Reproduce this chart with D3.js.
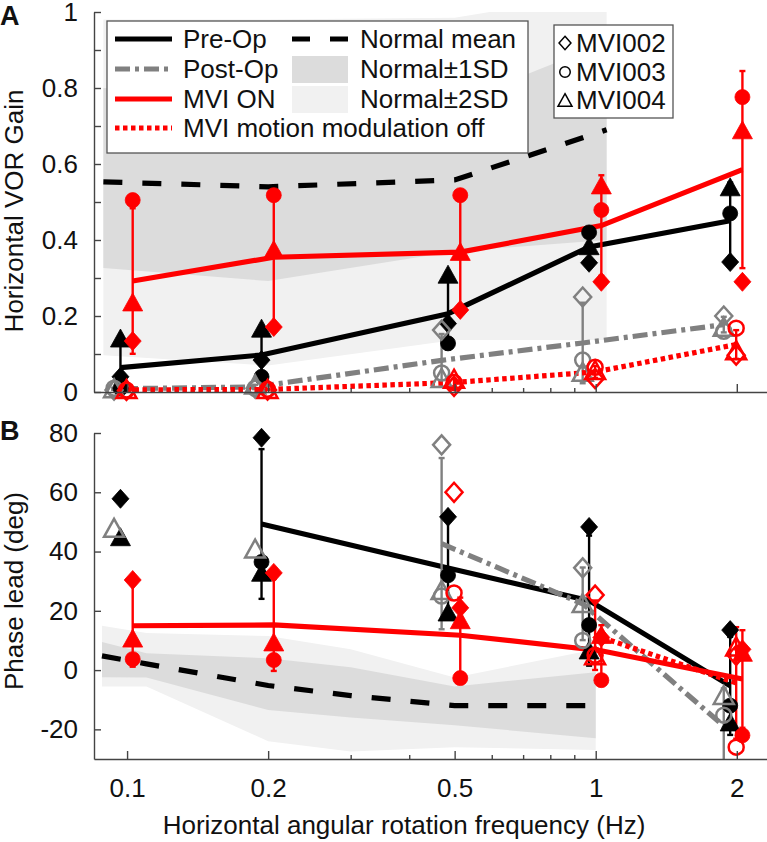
<!DOCTYPE html>
<html><head><meta charset="utf-8">
<script src="https://cdn.jsdelivr.net/npm/d3@7"></script>
<style>
body{margin:0;background:#fff}
text{font-family:"Liberation Sans",Arial,Helvetica,sans-serif;fill:#111}
</style>
</head><body>
<svg id="chart" width="767" height="842"></svg>
<script>
// ---------------- DATA ----------------
const frequencies = [0.1, 0.2, 0.5, 1, 2];
const subjectNames = ["MVI002", "MVI003", "MVI004"];
const conditionNames = ["Pre-Op", "Post-Op", "MVI ON", "MVI motion modulation off"];
// small frequency offsets used in the figure to separate conditions
const conditionJitter = [0.968, 0.938, 1.028, 0.997];

// Gain: rows = MVI002, MVI003, MVI004 ; columns = frequencies
const gainPreOp  = [[0.040, 0.084, 0.180, 0.340, 0.342], [0.010, 0.040, 0.128, 0.420, 0.470], [0.142, 0.168, 0.310, 0.385, 0.540]];
const gainPostOp = [[0.005, 0.010, 0.163, 0.250, 0.200], [0.010, 0.010, 0.050, 0.084, 0.160], [0.010, 0.020, 0.037, 0.053, 0.172]];
const gainMviOn  = [[0.134, 0.171, 0.216, 0.290, 0.290], [0.505, 0.518, 0.518, 0.479, 0.776], [0.237, 0.375, 0.370, 0.545, 0.690]];
const gainMviOff = [[0.004, 0.005, 0.015, 0.035, 0.097], [0.005, 0.007, 0.025, 0.065, 0.168], [0.008, 0.008, 0.035, 0.058, 0.110]];

// Phase lead (deg)
const phasePreOp  = [[57.8, 78.4, 51.7, 48.3, 13.5], [null, 36.5, 32.0, 15.2, -12.0], [45.0, 33.0, 19.6, 6.8, -17.5]];
const phasePostOp = [[null, null, 76.0, 34.5, -33.0], [null, null, 25.0, 10.0, -15.2], [48.0, 41.0, 27.0, 22.6, -8.4]];
const phaseMviOn  = [[30.4, 32.8, 21.0, 11.0, 7.0], [3.7, 3.4, -2.7, -3.4, -22.0], [10.8, 9.5, 17.0, 12.0, 6.0]];
const phaseMviOff = [[null, null, 60.0, 25.3, 5.0], [null, null, 26.0, 5.0, -26.0], [null, null, null, 5.0, 8.0]];

// Normal subjects (gain)
const normalGainFreq  = [0.089, 0.2, 0.5, 1.055];
const normalGainMean  = [0.553, 0.540, 0.558, 0.690];
const normalGainSd1Lo = [0.326, 0.292, 0.370, 0.400];
const normalGainSd1Hi = [0.800, 0.790, 0.760, 0.920];
const normalGainSd2Lo = [0.097, 0.070, 0.137, 0.137];
const normalGainSd2Hi = [0.980, 0.980, 0.985, 1.050];

// Normal subjects (phase)
const normalPhaseFreq  = [0.0884, 0.11, 0.2, 0.3, 0.5, 1.0];
const normalPhaseMean  = [4.8, 2.1, -5.2, -8.6, -12.0, -12.0];
const normalPhaseSd1Lo = [-2.4, -2.5, -13.5, -16.0, -18.6, -23.0];
const normalPhaseSd1Hi = [9.5, 5.7, 4.0, 1.0, -5.5, -0.7];
const normalPhaseSd2Lo = [-5.5, -5.5, -24.0, -27.5, -26.0, -27.0];
const normalPhaseSd2Hi = [15.0, 12.5, 11.5, 7.0, -2.5, 7.0];

const xTickMajor = [0.1, 0.2, 0.5, 1, 2];
const xTickMinor = [0.3, 0.4, 0.6, 0.7, 0.8, 0.9];
const gainTicks = [0, 0.1, 0.2, 0.3, 0.4, 0.5, 0.6, 0.7, 0.8, 0.9, 1];
const gainTickLabels = ["0", "", "0.2", "", "0.4", "", "0.6", "", "0.8", "", "1"];
const phaseTicks = [-20, 0, 20, 40, 60, 80];

// ---------------- STYLES ----------------
const FONT = 26;
const LW = 5.2;
const GRAY = "#808080", RED = "#ff0000";
const condStyle = [
  {color: "#000", dash: null, filled: true},
  {color: GRAY, dash: "15,5,4,5", filled: false},
  {color: RED, dash: null, filled: true},
  {color: RED, dash: "4.5,3.5", filled: false}
];
const SD1 = "#dcdcdc", SD2 = "#f1f1f1";

const svg = d3.select("#chart");
const x = d3.scaleLog().domain([0.085, 2.32]).range([94, 767]);
const yGain = d3.scaleLinear().domain([0, 1]).range([392, 12]);
const yPhase = d3.scaleLinear().domain([-30, 80]).range([759, 433]);

function markerPath(shape, s) {
  if (shape === 0) { const w = 8.5 * s, h = 9.5 * s; return `M0,${-h}L${w},0L0,${h}L${-w},0Z`; }
  if (shape === 1) { const r = 7.5 * s; return `M${r},0A${r},${r} 0 1,1 ${-r},0A${r},${r} 0 1,1 ${r},0Z`; }
  const w = 10 * s, h = 9 * s; return `M0,${-h}L${w},${h}L${-w},${h}Z`;
}

function stats(rows, i) {
  const v = rows.map(r => r[i]);
  if (v.some(d => d == null)) return null;
  return {m: d3.mean(v), sd: d3.deviation(v)};
}

function drawPanel(g, y, clipId, normal, conds, yTicks, yTickLabels, showXLabels) {
  const [x0, x1] = x.range(), [yb, yt] = y.range();
  svg.append("clipPath").attr("id", clipId).append("rect")
    .attr("x", x0).attr("y", yt).attr("width", x1 - x0).attr("height", yb - yt);
  const plot = g.append("g").attr("clip-path", `url(#${clipId})`);
  const area = d3.area().x(d => x(d.f)).y0(d => y(d.lo)).y1(d => y(d.hi));
  const nd = (lo, hi) => normal.freq.map((f, i) => ({f, lo: lo[i], hi: hi[i]}));
  plot.append("path").attr("d", area(nd(normal.sd2Lo, normal.sd2Hi))).attr("fill", SD2);
  plot.append("path").attr("d", area(nd(normal.sd1Lo, normal.sd1Hi))).attr("fill", SD1);
  const line = d3.line().defined(d => d.v != null).x(d => x(d.f)).y(d => y(d.v));
  plot.append("path").attr("d", line(normal.freq.map((f, i) => ({f, v: normal.mean[i]}))))
    .attr("fill", "none").attr("stroke", "#000").attr("stroke-width", LW).attr("stroke-dasharray", "19,20");

  conds.forEach((rows, c) => {
    const st = condStyle[c];
    const jit = conditionJitter[c];
    const ms = frequencies.map((f, i) => { const s = stats(rows, i); return {f: f * jit, v: s ? s.m : null, sd: s ? s.sd : null}; });
    const cg = plot.append("g");
    cg.append("path").attr("d", line(ms)).attr("fill", "none").attr("stroke", st.color)
      .attr("stroke-width", LW).attr("stroke-dasharray", st.dash);
    ms.filter(d => d.v != null).forEach(d => {
      const xx = x(d.f), lo = y(d.v - d.sd), hi = y(d.v + d.sd);
      cg.append("line").attr("x1", xx).attr("x2", xx).attr("y1", lo).attr("y2", hi)
        .attr("stroke", st.color).attr("stroke-width", 2.4);
      [lo, hi].forEach(yy => cg.append("line").attr("x1", xx - 3).attr("x2", xx + 3).attr("y1", yy).attr("y2", yy)
        .attr("stroke", st.color).attr("stroke-width", 2.4));
    });
    const dom = y.domain();
    rows.forEach((row, s) => {
      row.forEach((v, i) => {
        if (v == null || v < dom[0] || v > dom[1]) return;
        g.append("path").attr("d", markerPath(s, 1))
          .attr("transform", `translate(${x(frequencies[i] * jit)},${y(v)})`)
          .attr("fill", st.filled ? st.color : "none")
          .attr("stroke", st.color).attr("stroke-width", st.filled ? 0.8 : 2.5);
      });
    });
  });

  const axG = g.append("g");
  const yAxis = d3.axisLeft(y).tickValues(yTicks).tickSizeInner(-7).tickSizeOuter(0).tickPadding(16)
    .tickFormat((d, i) => yTickLabels[i]);
  axG.append("g").attr("transform", `translate(${x0},0)`).call(yAxis);
  const allX = xTickMajor.concat(xTickMinor);
  const xAxis = d3.axisBottom(x).tickValues(allX).tickSizeInner(-8).tickSizeOuter(0).tickPadding(19.5)
    .tickFormat(d => showXLabels && xTickMajor.includes(d) ? String(d) : "");
  const xa = axG.append("g").attr("transform", `translate(0,${yb})`).call(xAxis);
  xa.selectAll(".tick line").attr("y2", d => xTickMajor.includes(d) ? -8 : -4);
  axG.selectAll(".domain").attr("stroke", "#444").attr("stroke-width", 1.4);
  axG.selectAll(".tick line").attr("stroke", "#444").attr("stroke-width", 1.4);
  axG.selectAll(".tick text").attr("font-size", FONT).attr("fill", "#111")
    .attr("font-family", "Liberation Sans, Arial, sans-serif");
}

const gA = svg.append("g");
drawPanel(gA, yGain, "clipA",
  {freq: normalGainFreq, mean: normalGainMean, sd1Lo: normalGainSd1Lo, sd1Hi: normalGainSd1Hi, sd2Lo: normalGainSd2Lo, sd2Hi: normalGainSd2Hi},
  [gainPreOp, gainPostOp, gainMviOn, gainMviOff], gainTicks, gainTickLabels, false);
const gB = svg.append("g");
drawPanel(gB, yPhase, "clipB",
  {freq: normalPhaseFreq, mean: normalPhaseMean, sd1Lo: normalPhaseSd1Lo, sd1Hi: normalPhaseSd1Hi, sd2Lo: normalPhaseSd2Lo, sd2Hi: normalPhaseSd2Hi},
  [phasePreOp, phasePostOp, phaseMviOn, phaseMviOff], phaseTicks, phaseTicks.map(String), true);

// titles
svg.append("text").attr("x", 0).attr("y", 25).attr("font-size", 27).attr("font-weight", "bold").text("A");
svg.append("text").attr("x", 0).attr("y", 440).attr("font-size", 27).attr("font-weight", "bold").text("B");
svg.append("text").attr("transform", "translate(23,211) rotate(-90)").attr("text-anchor", "middle")
  .attr("font-size", FONT).text("Horizontal VOR Gain");
svg.append("text").attr("transform", "translate(23,591) rotate(-90)").attr("text-anchor", "middle")
  .attr("font-size", FONT).text("Phase lead (deg)");
svg.append("text").attr("x", 404).attr("y", 834).attr("text-anchor", "middle")
  .attr("font-size", FONT).text("Horizontal angular rotation frequency (Hz)");

// legend 1
const lg = svg.append("g");
lg.append("rect").attr("x", 107).attr("y", 21).attr("width", 421).attr("height", 132)
  .attr("fill", "#fff").attr("stroke", "#555").attr("stroke-width", 1.3);
const rowY = [39, 69, 99, 128];
conditionNames.forEach((name, i) => {
  const st = condStyle[i];
  lg.append("line").attr("x1", 115).attr("x2", 172).attr("y1", rowY[i]).attr("y2", rowY[i])
    .attr("stroke", st.color).attr("stroke-width", LW).attr("stroke-dasharray", st.dash);
  lg.append("text").attr("x", 183).attr("y", rowY[i] + 9.3).attr("font-size", FONT).text(name);
});
lg.append("line").attr("x1", 292).attr("x2", 348).attr("y1", rowY[0]).attr("y2", rowY[0])
  .attr("stroke", "#000").attr("stroke-width", LW).attr("stroke-dasharray", "18,20");
lg.append("text").attr("x", 360).attr("y", rowY[0] + 9.3).attr("font-size", FONT).text("Normal mean");
lg.append("rect").attr("x", 292).attr("y", rowY[1] - 13).attr("width", 56).attr("height", 27).attr("fill", SD1);
lg.append("text").attr("x", 360).attr("y", rowY[1] + 9.3).attr("font-size", FONT).text("Normal±1SD");
lg.append("rect").attr("x", 292).attr("y", rowY[2] - 13).attr("width", 56).attr("height", 27).attr("fill", SD2);
lg.append("text").attr("x", 360).attr("y", rowY[2] + 9.3).attr("font-size", FONT).text("Normal±2SD");

// legend 2
const lg2 = svg.append("g");
lg2.append("rect").attr("x", 554).attr("y", 25).attr("width", 119).attr("height", 93)
  .attr("fill", "#fff").attr("stroke", "#555").attr("stroke-width", 1.3);
const row2Y = [43, 72, 100];
subjectNames.forEach((name, i) => {
  lg2.append("path").attr("d", markerPath(i, 0.7)).attr("transform", `translate(565,${row2Y[i]})`)
    .attr("fill", "none").attr("stroke", "#000").attr("stroke-width", 1.5);
  lg2.append("text").attr("x", 576).attr("y", row2Y[i] + 9.3).attr("font-size", FONT).text(name);
});
</script>
</body></html>
